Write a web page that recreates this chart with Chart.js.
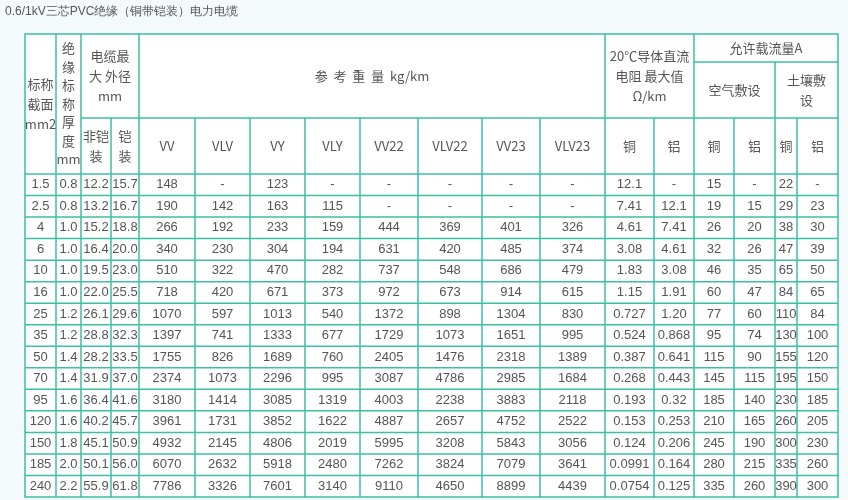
<!DOCTYPE html>
<html>
<head>
<meta charset="utf-8">
<script src="https://cdn.jsdelivr.net/npm/chart.js@4"></script>
<style>
  body { margin: 0; background: #f4fafc; }
  #wrap { width: 848px; height: 500px; position: relative; }
</style>
</head>
<body>
<div id="wrap"><canvas id="tableChart"></canvas></div>
<script>
// table data, one array per column
const sizes = ["1.5","2.5","4","6","10","16","25","35","50","70","95","120","150","185","240"];
const insulation = ["0.8","0.8","1.0","1.0","1.0","1.0","1.2","1.2","1.4","1.4","1.6","1.6","1.8","2.0","2.2"];
const diaPlain = ["12.2","13.2","15.2","16.4","19.5","22.0","26.1","28.8","28.2","31.9","36.4","40.2","45.1","50.1","55.9"];
const diaArmour = ["15.7","16.7","18.8","20.0","23.0","25.5","29.6","32.3","33.5","37.0","41.6","45.7","50.9","56.0","61.8"];
const wVV = ["148","190","266","340","510","718","1070","1397","1755","2374","3180","3961","4932","6070","7786"];
const wVLV = ["-","142","192","230","322","420","597","741","826","1073","1414","1731","2145","2632","3326"];
const wVY = ["123","163","233","304","470","671","1013","1333","1689","2296","3085","3852","4806","5918","7601"];
const wVLY = ["-","115","159","194","282","373","540","677","760","995","1319","1622","2019","2480","3140"];
const wVV22 = ["-","-","444","631","737","972","1372","1729","2405","3087","4003","4887","5995","7262","9110"];
const wVLV22 = ["-","-","369","420","548","673","898","1073","1476","4786","2238","2657","3208","3824","4650"];
const wVV23 = ["-","-","401","485","686","914","1304","1651","2318","2985","3883","4752","5843","7079","8899"];
const wVLV23 = ["-","-","326","374","479","615","830","995","1389","1684","2118","2522","3056","3641","4439"];
const resCu = ["12.1","7.41","4.61","3.08","1.83","1.15","0.727","0.524","0.387","0.268","0.193","0.153","0.124","0.0991","0.0754"];
const resAl = ["-","12.1","7.41","4.61","3.08","1.91","1.20","0.868","0.641","0.443","0.32","0.253","0.206","0.164","0.125"];
const airCu = ["15","19","26","32","46","60","77","95","115","145","185","210","245","280","335"];
const airAl = ["-","15","20","26","35","47","60","74","90","115","140","165","190","215","260"];
const soilCu = ["22","29","38","47","65","84","110","130","155","195","230","260","300","335","390"];
const soilAl = ["-","23","30","39","50","65","84","100","120","150","185","205","230","260","300"];
const columns = [sizes, insulation, diaPlain, diaArmour, wVV, wVLV, wVY, wVLY, wVV22, wVLV22, wVV23, wVLV23, resCu, resAl, airCu, airAl, soilCu, soilAl];
const title = "0.6/1kV三芯PVC绝缘（铜带铠装）电力电缆";

// layout in page units (scale 0..848 x 0..500)
const colEdges = [25,56,81,111,139,195,250,305,360,418,482,540,605,654,694,734,775,797,838];
const headTop = 34, headMid = 62, headSub = 118, bodyTop = 174, bodyBottom = 497;
const rowH = (bodyBottom - bodyTop) / sizes.length;

const headerCells = [
  { c0: 0, c1: 1, y0: headTop, y1: bodyTop, lines: ["标称","截面","mm2"] },
  { c0: 1, c1: 2, y0: headTop, y1: bodyTop, lines: ["绝","缘","标","称","厚","度","mm"], lh: 18.5 },
  { c0: 2, c1: 4, y0: headTop, y1: headSub, lines: ["电缆最","大 外径","mm"] },
  { c0: 2, c1: 3, y0: headSub, y1: bodyTop, lines: ["非铠","装"] },
  { c0: 3, c1: 4, y0: headSub, y1: bodyTop, lines: ["铠","装"] },
  { c0: 4, c1: 12, y0: headTop, y1: headSub, lines: ["参  考  重  量  kg/km"] },
  { c0: 12, c1: 14, y0: headTop, y1: headSub, lines: ["20℃导体直流","电阻 最大值","Ω/km"] },
  { c0: 14, c1: 18, y0: headTop, y1: headMid, lines: ["允许载流量A"] },
  { c0: 14, c1: 16, y0: headMid, y1: headSub, lines: ["空气敷设"] },
  { c0: 16, c1: 18, y0: headMid, y1: headSub, lines: ["土壤敷","设"] }
];
const subHeads = ["VV","VLV","VY","VLY","VV22","VLV22","VV23","VLV23","铜","铝","铜","铝","铜","铝"];

const tablePlugin = {
  id: "tableDraw",
  beforeDraw(chart) {
    const { ctx, scales } = chart;
    const X = v => scales.x.getPixelForValue(v);
    const Y = v => scales.y.getPixelForValue(v);
    ctx.save();
    ctx.fillStyle = "#f4fafc";
    ctx.fillRect(0, 0, chart.width, chart.height);
    ctx.fillStyle = "#ffffff";
    ctx.fillRect(X(colEdges[0]), Y(headTop), X(colEdges[18]) - X(colEdges[0]), Y(bodyBottom) - Y(headTop));

    ctx.fillStyle = "#555";
    ctx.font = "12px 'Liberation Sans', sans-serif";
    ctx.textBaseline = "middle";
    ctx.textAlign = "left";
    ctx.fillText(title, X(5), Y(12));

    ctx.strokeStyle = "#3cbfa5";
    ctx.lineWidth = 1.5;
    const line = (x0, y0, x1, y1) => { ctx.beginPath(); ctx.moveTo(X(x0), Y(y0)); ctx.lineTo(X(x1), Y(y1)); ctx.stroke(); };
    const E = colEdges;
    ctx.strokeRect(X(E[0]), Y(headTop), X(E[18]) - X(E[0]), Y(bodyBottom) - Y(headTop));
    line(E[14], headMid, E[18], headMid);
    line(E[2], headSub, E[18], headSub);
    line(E[0], bodyTop, E[18], bodyTop);
    [1, 2, 4, 12, 14].forEach(i => line(E[i], headTop, E[i], bodyBottom));
    [3,5,6,7,8,9,10,11,13,15,17].forEach(i => line(E[i], headSub, E[i], bodyBottom));
    line(E[16], headMid, E[16], bodyBottom);
    for (let r = 1; r < sizes.length; r++) line(E[0], bodyTop + r * rowH, E[18], bodyTop + r * rowH);

    // header text
    ctx.fillStyle = "#555";
    ctx.textAlign = "center";
    ctx.font = "13px 'Noto Sans CJK SC', sans-serif";
    headerCells.forEach(h => {
      const cx = (X(E[h.c0]) + X(E[h.c1])) / 2;
      const lh = h.lh || 20;
      const cy = (Y(h.y0) + Y(h.y1)) / 2 - (h.lines.length - 1) * lh / 2;
      h.lines.forEach((t, k) => ctx.fillText(t, cx, cy + k * lh));
    });
    subHeads.forEach((t, k) => {
      const i = k + 4;
      ctx.fillText(t, (X(E[i]) + X(E[i + 1])) / 2, (Y(headSub) + Y(bodyTop)) / 2);
    });

    // body text
    ctx.font = "13px 'Liberation Sans Narrow', 'Liberation Sans', sans-serif";
    columns.forEach((col, i) => {
      const cx = (X(E[i]) + X(E[i + 1])) / 2;
      col.forEach((v, r) => ctx.fillText(v, cx, Y(bodyTop + (r + 0.5) * rowH)));
    });
    ctx.restore();
  }
};

new Chart(document.getElementById("tableChart"), {
  type: "scatter",
  data: { datasets: [{ data: [], pointRadius: 0 }] },
  options: {
    responsive: true,
    maintainAspectRatio: false,
    animation: false,
    layout: { padding: 0 },
    plugins: { legend: { display: false }, tooltip: { enabled: false } },
    scales: {
      x: { type: "linear", min: 0, max: 848, display: false },
      y: { type: "linear", min: 0, max: 500, reverse: true, display: false }
    }
  },
  plugins: [tablePlugin]
});
</script>
</body>
</html>
